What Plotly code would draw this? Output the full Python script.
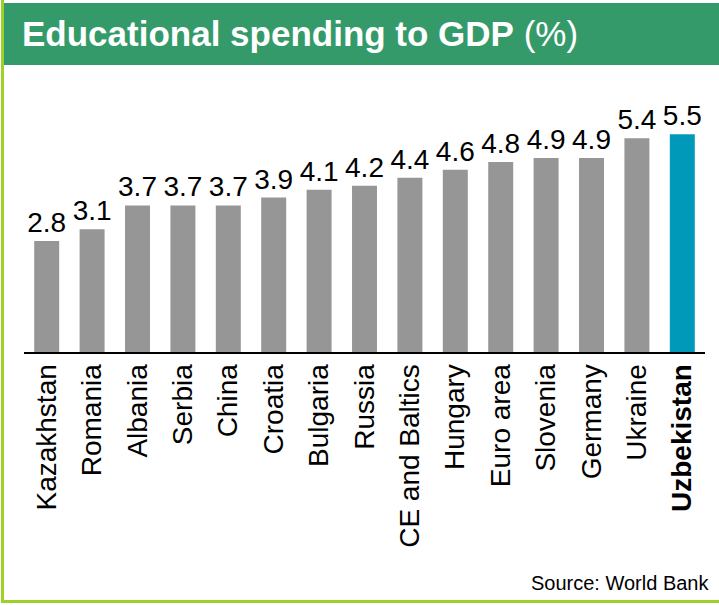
import plotly.graph_objects as go

# Public spending on education as a share of GDP (%)
countries = ["Kazakhstan", "Romania", "Albania", "Serbia", "China", "Croatia",
             "Bulgaria", "Russia", "CE and Baltics", "Hungary", "Euro area",
             "Slovenia", "Germany", "Ukraine", "Uzbekistan"]
spending = [2.8, 3.1, 3.7, 3.7, 3.7, 3.9, 4.1, 4.2, 4.4, 4.6, 4.8, 4.9, 4.9, 5.4, 5.5]
highlight = "Uzbekistan"

GRAY = "#969696"
TEAL = "#0099B9"
HEADER_GREEN = "#359A6A"
FRAME_GREEN = "#9DD12A"
FONT = "Liberation Sans, Arial, sans-serif"

colors = [TEAL if c == highlight else GRAY for c in countries]
tick_text = [f"<b>{c}</b>" if c == highlight else c for c in countries]

W, H = 719, 605
ML, MR, MT, MB = 24, 14, 110, 253
plot_w = W - ML - MR
plot_h = H - MT - MB


def px_x(x):
    return (x - ML) / plot_w


def px_y(y):
    return (H - MB - y) / plot_h


fig = go.Figure(
    go.Bar(
        x=countries,
        y=spending,
        marker=dict(color=colors, line=dict(width=0)),
        width=0.55,
        text=[f"{v:.1f}" for v in spending],
        textposition="outside",
        textfont=dict(family=FONT, size=28, color="black"),
        constraintext="none",
        cliponaxis=False,
        hoverinfo="skip",
    )
)

fig.update_layout(
    width=W,
    height=H,
    margin=dict(l=ML, r=MR, t=MT, b=MB, autoexpand=False),
    paper_bgcolor="white",
    plot_bgcolor="white",
    showlegend=False,
    bargap=0.45,
    title=dict(
        text="<b>Educational spending to GDP</b> (%)",
        font=dict(family=FONT, size=35, color="white"),
        xref="container", yref="container",
        x=22 / W, xanchor="left",
        y=1 - 34 / H, yanchor="middle",
    ),
    xaxis=dict(
        tickmode="array",
        tickvals=countries,
        ticktext=tick_text,
        tickangle=-90,
        tickfont=dict(family=FONT, size=28, color="black"),
        showline=True,
        linecolor="black",
        linewidth=2,
        ticks="",
        showgrid=False,
        zeroline=False,
        range=[-0.5, len(countries) - 0.5],
        automargin=False,
        ticklabelstandoff=-1,
    ),
    yaxis=dict(
        range=[0, plot_h / 39.6],
        visible=False,
        showgrid=False,
        zeroline=False,
    ),
    shapes=[
        # header band
        dict(type="rect", xref="paper", yref="paper",
             x0=px_x(4), x1=px_x(W), y0=px_y(65), y1=px_y(3),
             fillcolor=HEADER_GREEN, line=dict(width=0), layer="below"),
        # frame: left and bottom edges
        dict(type="line", xref="paper", yref="paper",
             x0=px_x(2.5), x1=px_x(2.5), y0=px_y(0), y1=px_y(603),
             line=dict(color=FRAME_GREEN, width=3)),
        dict(type="line", xref="paper", yref="paper",
             x0=px_x(1), x1=px_x(W), y0=px_y(601.5), y1=px_y(601.5),
             line=dict(color=FRAME_GREEN, width=3)),
    ],
    annotations=[
        dict(text="Source: World Bank", xref="paper", yref="paper",
             x=px_x(711), y=px_y(583), xanchor="right", yanchor="middle",
             showarrow=False,
             font=dict(family=FONT, size=20, color="black")),
    ],
)

fig.write_html("out.html")
